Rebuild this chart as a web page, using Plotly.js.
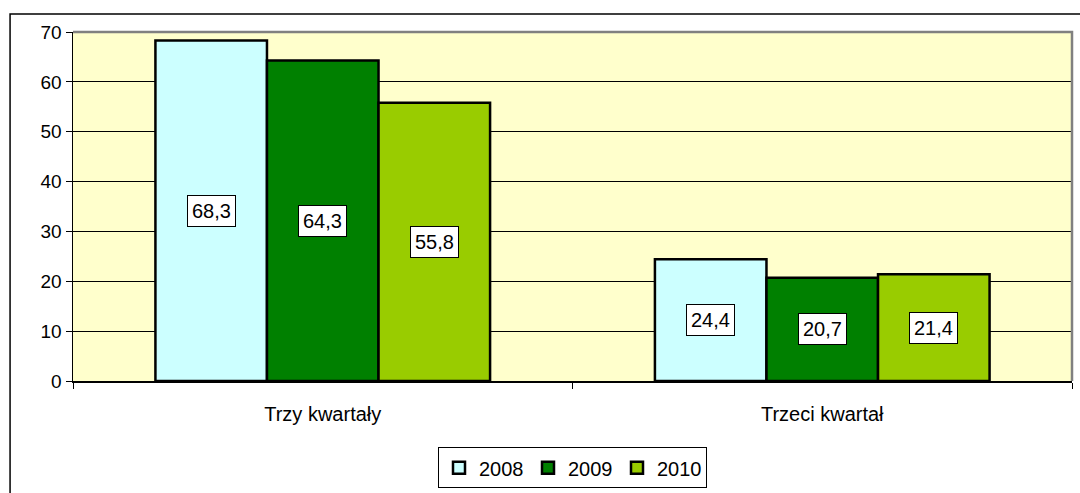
<!DOCTYPE html>
<html>
<head>
<meta charset="utf-8">
<script src="https://cdn.plot.ly/plotly-3.0.1.min.js"></script>
<style>html,body{margin:0;padding:0;background:#fff;}#chart{width:1080px;height:493px;}</style>
</head>
<body>
<div id="chart"></div>
<script>
const categories = ["Trzy kwartały", "Trzeci kwartał"];
const seriesNames = ["2008", "2009", "2010"];
const values2008 = [68.3, 24.4];
const values2009 = [64.3, 20.7];
const values2010 = [55.8, 21.4];
const seriesColors = ["#CCFFFF", "#008000", "#99CC00"];
const yTicks = [0, 10, 20, 30, 40, 50, 60, 70];

const allValues = [values2008, values2009, values2010];
const bargap = 0.33;
const FONT = "Liberation Sans, Arial, sans-serif";

const traces = allValues.map((vals, j) => ({
  type: "bar",
  name: seriesNames[j],
  x: categories,
  y: vals,
  marker: {color: seriesColors[j], line: {color: "#000", width: 2.5}},
  hoverinfo: "skip"
}));

const annotations = [];
const barW = (1 - bargap) / allValues.length;
allValues.forEach((vals, j) => {
  vals.forEach((v, i) => {
    annotations.push({
      x: i + (j - (allValues.length - 1) / 2) * barW,
      y: v / 2,
      xref: "x", yref: "y",
      text: v.toFixed(1).replace(".", ","),
      showarrow: false,
      font: {family: FONT, size: 20, color: "#000"},
      bgcolor: "#fff",
      bordercolor: "#000",
      borderwidth: 1,
      borderpad: 4
    });
  });
});

const layout = {
  width: 1080, height: 493,
  margin: {l: 73, r: 8, t: 32, b: 112, autoexpand: false},
  paper_bgcolor: "#fff",
  plot_bgcolor: "#FFFFCC",
  barmode: "group",
  bargap: bargap,
  bargroupgap: 0,
  showlegend: true,
  font: {family: FONT, color: "#000"},
  xaxis: {
    type: "category",
    showline: true, linecolor: "#000", linewidth: 1.5,
    ticks: "outside", tickson: "boundaries", ticklen: 6, tickcolor: "#000", tickwidth: 1,
    tickfont: {family: FONT, size: 20, color: "#000"},
    ticklabelstandoff: 14,
    showgrid: false, zeroline: false
  },
  yaxis: {
    range: [0, 70], tickvals: yTicks, ticktext: yTicks.map(String),
    showline: true, linecolor: "#000", linewidth: 1.5,
    ticks: "outside", ticklen: 6, tickcolor: "#000", tickwidth: 1,
    tickfont: {family: FONT, size: 19, color: "#000"},
    showgrid: true, gridcolor: "#000", gridwidth: 1,
    zeroline: false, fixedrange: true
  },
  legend: {
    orientation: "h",
    x: 0.5, xanchor: "center",
    y: -0.19, yanchor: "top",
    bordercolor: "#000", borderwidth: 1, bgcolor: "#fff",
    font: {family: FONT, size: 20, color: "#000"},
    entrywidth: 44, entrywidthmode: "pixels",
    tracegroupgap: 0
  },
  annotations: annotations,
  shapes: [
    {type: "path", xref: "paper", yref: "paper", path: "M0,1 L1,1 L1,0",
     line: {color: "#808080", width: 2.5}, layer: "above"},
    {type: "rect", xref: "paper", yref: "paper", x0: -0.063, x1: 1.05, y0: -0.5, y1: 1.0516,
     line: {color: "#000", width: 1.5}, fillcolor: "rgba(0,0,0,0)", layer: "below"}
  ]
};

Plotly.newPlot("chart", traces, layout, {displayModeBar: false, staticPlot: true});
</script>
</body>
</html>
